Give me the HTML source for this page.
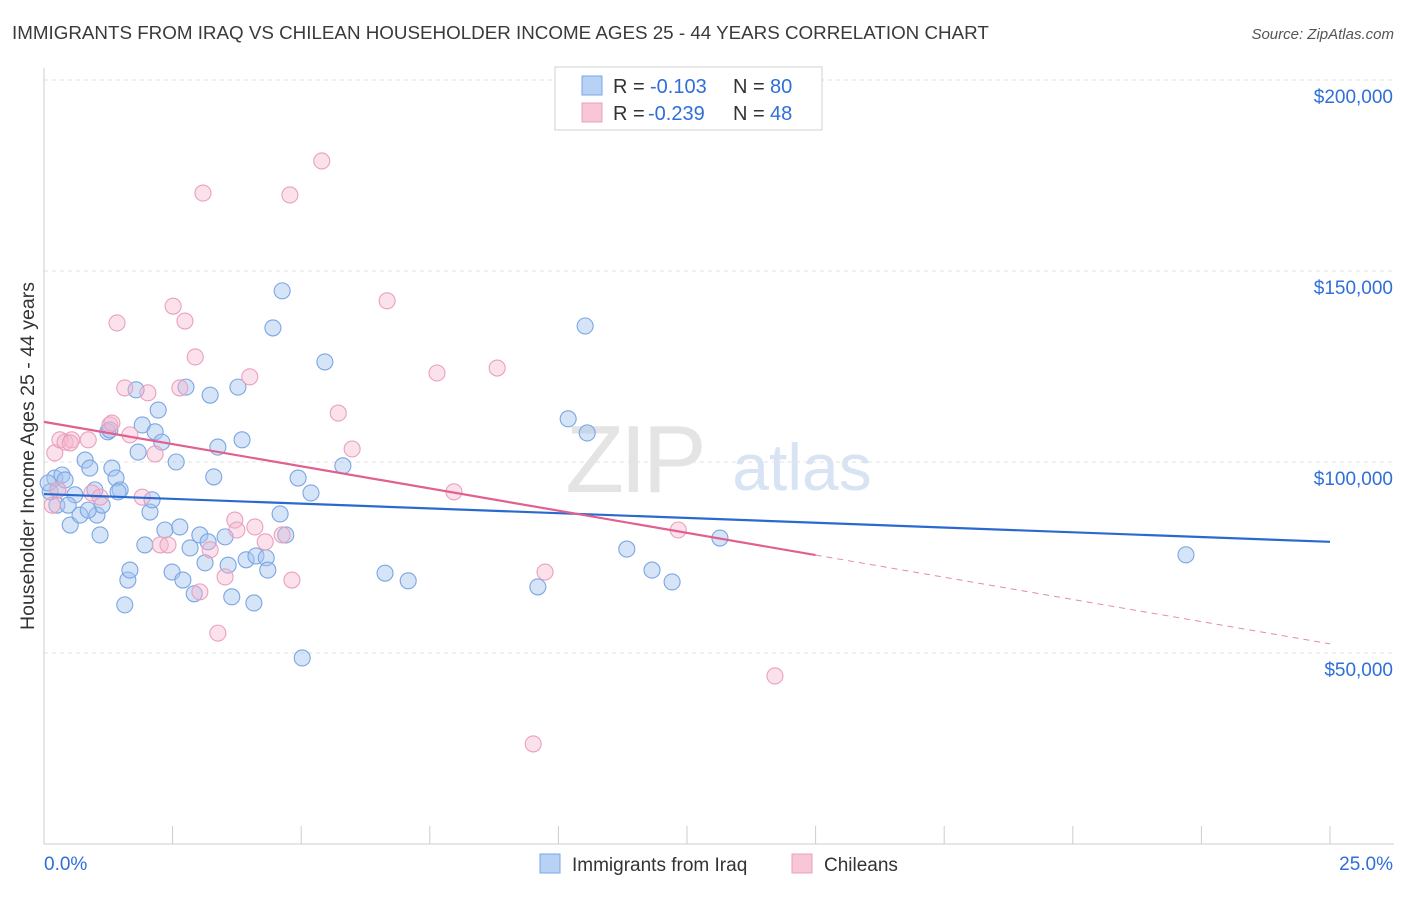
<!DOCTYPE html>
<html><head><meta charset="utf-8"><style>
body{margin:0;background:#fff;font-family:"Liberation Sans",sans-serif;}
svg text{font-family:"Liberation Sans",sans-serif;}
</style></head><body>
<svg id="chart" width="1406" height="892" xmlns="http://www.w3.org/2000/svg">
<text x="12" y="39" font-size="18.8" fill="#3a3a3a">IMMIGRANTS FROM IRAQ VS CHILEAN HOUSEHOLDER INCOME AGES 25 - 44 YEARS CORRELATION CHART</text>
<text x="1394" y="39" font-size="15" fill="#555" text-anchor="end" font-style="italic">Source: ZipAtlas.com</text>
<g>
<text x="634" y="492" font-size="96" fill="#e4e4e4" text-anchor="middle" font-family="Liberation Serif" letter-spacing="-4">ZIP</text>
<text x="802" y="490" font-size="66" fill="#d8e4f4" text-anchor="middle">atlas</text>
</g>
<g id="grid"></g>
<g id="axes"></g>
<g id="marks"></g>
<g>
<rect x="555" y="67" width="267" height="63" fill="#fff" stroke="#d0d0d0"/>
<rect x="582" y="76" width="20" height="19" fill="#b8d2f6" stroke="#7aa6e4"/>
<rect x="582" y="103" width="20" height="19" fill="#f8c6d6" stroke="#eaa0bc"/>
<text x="613" y="93" font-size="20" fill="#333">R =</text>
<text x="650" y="93" font-size="20" fill="#2e6fd8">-0.103</text>
<text x="733" y="93" font-size="20" fill="#333">N =</text>
<text x="770" y="93" font-size="20" fill="#2e6fd8">80</text>
<text x="613" y="120" font-size="20" fill="#333">R =</text>
<text x="648" y="120" font-size="20" fill="#2e6fd8">-0.239</text>
<text x="733" y="120" font-size="20" fill="#333">N =</text>
<text x="770" y="120" font-size="20" fill="#2e6fd8">48</text>
</g>
<g>
<rect x="540" y="854" width="20" height="19" fill="#b8d2f6" stroke="#7aa6e4"/>
<text x="572" y="871" font-size="19" fill="#333">Immigrants from Iraq</text>
<rect x="792" y="854" width="20" height="19" fill="#f8c6d6" stroke="#eaa0bc"/>
<text x="824" y="871" font-size="19" fill="#333">Chileans</text>
</g>
<text transform="translate(34,456) rotate(-90)" font-size="19.5" fill="#333" text-anchor="middle">Householder Income Ages 25 - 44 years</text>
</svg>
<script>
const yTicks=[50000,100000,150000,200000];
const yTickLabels=["$50,000","$100,000","$150,000","$200,000"];
const xTickLabels=["0.0%","25.0%"];
const iraqX=[0.21,0.12,0.25,0.35,0.08,0.51,0.60,0.47,0.70,0.80,0.89,1.03,1.09,1.13,1.24,1.32,1.40,1.48,1.44,1.57,1.63,1.67,1.79,1.83,1.91,1.96,2.06,2.10,2.16,2.22,2.29,2.35,2.49,2.57,2.64,2.70,2.76,2.84,2.92,3.03,3.13,3.19,3.23,3.30,3.38,3.52,3.58,3.65,3.77,3.85,3.93,4.08,4.12,4.32,4.35,4.45,4.59,4.63,4.70,4.94,5.02,5.19,5.46,5.81,6.63,7.08,9.60,10.19,10.56,10.52,11.33,11.82,12.21,13.14,22.20,1.28,0.99,0.27,0.41,0.86];
const iraqY=[95.8,92.2,88.7,96.6,94.5,83.5,91.4,88.7,86.1,100.5,98.4,86.1,80.9,88.7,107.9,98.4,95.8,92.7,92.2,62.6,69.1,71.7,118.9,102.6,109.7,78.3,86.9,90.1,107.9,113.6,105.2,82.2,71.2,100.0,83.0,69.1,119.6,77.5,65.5,80.9,73.6,79.1,117.5,96.1,103.9,80.4,73.0,64.7,119.6,105.8,74.4,63.1,75.4,74.9,71.7,135.1,86.4,144.8,80.9,95.8,48.7,91.9,126.2,99.0,70.9,68.9,67.3,111.3,107.6,135.6,77.2,71.7,68.6,80.1,75.7,108.4,92.7,92.7,95.3,87.4];
const chileX=[0.16,0.21,0.31,0.41,0.54,0.86,0.93,1.09,1.28,1.32,1.42,1.57,1.67,1.91,2.02,2.16,2.26,2.41,2.51,2.64,2.74,2.94,3.03,3.09,3.23,3.38,3.52,3.71,3.75,4.00,4.10,4.30,4.63,4.78,4.82,5.40,5.72,5.99,6.67,7.64,7.97,8.81,9.51,9.74,12.33,14.21,0.27,0.51];
const chileY=[88.7,102.4,105.8,105.2,105.8,105.8,91.9,90.8,109.7,110.2,136.4,119.4,107.1,90.8,118.1,102.1,78.3,78.3,140.8,119.4,136.9,127.5,66.0,170.4,77.0,55.2,69.9,84.8,82.2,122.3,83.0,79.1,80.9,169.9,69.1,178.8,112.8,103.4,142.2,123.3,92.2,124.6,26.2,71.2,82.2,44.0,92.7,105.0];
const iraqTrend=[91.6,79.1];
const chileTrend=[110.5,52.4];
const chileSolidEnd=15.0;
const NS="http://www.w3.org/2000/svg";
const X0=44,X1=1330,Y0=844,PXK=3.82;
const sx=v=>X0+(v/25)*(X1-X0);
const sy=k=>Y0-k*PXK;
function mk(tag,attrs,parent){const e=document.createElementNS(NS,tag);for(const k in attrs)e.setAttribute(k,attrs[k]);parent.appendChild(e);return e;}
const grid=document.getElementById('grid'),axes=document.getElementById('axes'),marks=document.getElementById('marks');
yTicks.forEach((t,i)=>{const y=sy(t/1000);
const l=mk('line',{x1:X0,x2:1394,y1:y,y2:y,stroke:'#e2e2e2','stroke-dasharray':'4 4'},grid);


const tx=mk('text',{x:1393,y:y+23,'font-size':19,fill:'#2e6fd8','text-anchor':'end'},axes);tx.textContent=yTickLabels[i];

});
const ax=mk('line',{x1:X0,x2:X0,y1:68,y2:Y0,stroke:'#ccc'},axes);


const bx=mk('line',{x1:X0,x2:1394,y1:Y0,y2:Y0,stroke:'#ccc'},axes);


for(let i=1;i<=10;i++){const x=sx(i*2.5);const t=mk('line',{x1:x,x2:x,y1:Y0-18,y2:Y0,stroke:'#ccc'},axes);

}
const xl0=mk('text',{x:44,y:870,'font-size':19,fill:'#2e6fd8'},axes);xl0.textContent=xTickLabels[0];


const xl1=mk('text',{x:1393,y:870,'font-size':19,fill:'#2e6fd8','text-anchor':'end'},axes);xl1.textContent=xTickLabels[1];


iraqX.forEach((v,i)=>{const c=mk('circle',{cx:sx(v),cy:sy(iraqY[i]),r:8,fill:'rgba(164,196,240,0.45)',stroke:'#7aa6e4','stroke-width':1.1},marks);

});
chileX.forEach((v,i)=>{const c=mk('circle',{cx:sx(v),cy:sy(chileY[i]),r:8,fill:'rgba(246,180,204,0.4)',stroke:'#eaa0bc','stroke-width':1.1},marks);

});
const tb=mk('line',{x1:sx(0),y1:sy(iraqTrend[0]),x2:sx(25),y2:sy(iraqTrend[1]),stroke:'#2a6ad0','stroke-width':2.2},marks);


const cAt=x=>chileTrend[0]+(chileTrend[1]-chileTrend[0])*x/25;
const tp=mk('line',{x1:sx(0),y1:sy(cAt(0)),x2:sx(chileSolidEnd),y2:sy(cAt(chileSolidEnd)),stroke:'#e06090','stroke-width':2.2},marks);


const td=mk('line',{x1:sx(chileSolidEnd),y1:sy(cAt(chileSolidEnd)),x2:sx(25),y2:sy(cAt(25)),stroke:'#e58aa8','stroke-width':1,'stroke-dasharray':'6 5'},marks);


</script>
</body></html>
